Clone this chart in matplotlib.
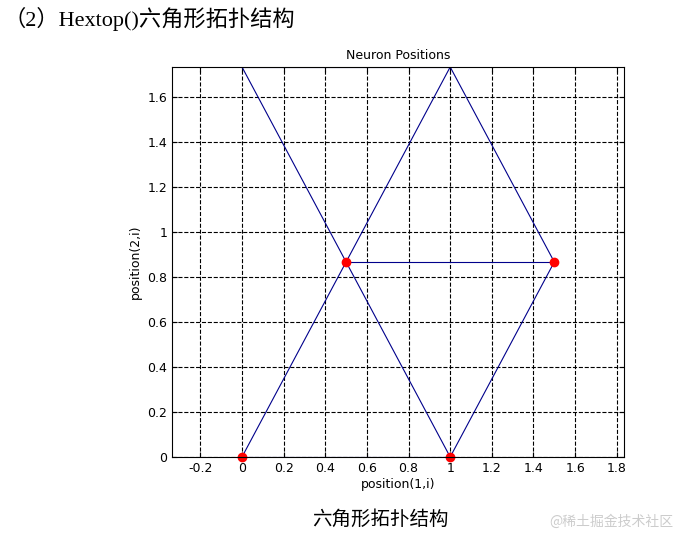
import matplotlib
matplotlib.use("Agg")
import matplotlib.pyplot as plt
import numpy as np

px = [0, 1, 0.5, 1.5, 0, 1]
py = [0, 0, 0.866, 0.866, 1.732, 1.732]
links = [(0, 1), (0, 2), (1, 2), (1, 3), (2, 3), (2, 4), (2, 5), (3, 5), (4, 5)]
visible_dots = [0, 1, 2, 3]
xticks = [-0.2, 0, 0.2, 0.4, 0.6, 0.8, 1, 1.2, 1.4, 1.6, 1.8]
yticks = [0, 0.2, 0.4, 0.6, 0.8, 1, 1.2, 1.4, 1.6]

fig = plt.figure(figsize=(6.8, 5.38), dpi=100)
ax = fig.add_axes([0.253, 0.1506, 0.665, 0.7249])
for a, b in links:
    ax.plot([px[a], px[b]], [py[a], py[b]], color='#00008B', lw=0.8)
ax.plot([px[i] for i in visible_dots], [py[i] for i in visible_dots], 'o',
        color='red', ms=6, ls='none', clip_on=False)
ax.set_xlim(-0.336, 1.836)
ax.set_ylim(0, 1.732)
ax.set_xticks(xticks)
ax.set_xticklabels([f"{v:g}" for v in xticks])
ax.set_yticks(yticks)
ax.set_yticklabels([f"{v:g}" for v in yticks])
ax.grid(True, ls='--', color='black', lw=0.8)
ax.tick_params(direction='in', labelsize=9, top=True, right=True)
ax.set_title('Neuron Positions', fontsize=9)
ax.set_xlabel('position(1,i)', fontsize=9, labelpad=2)
ax.set_ylabel('position(2,i)', fontsize=9)

fam = ['Liberation Serif', 'Noto Sans CJK SC']
fig.text(0.005, 0.965, '（2）Hextop()六角形拓扑结构', fontsize=16, family=fam, va='center')
fig.text(0.56, 0.035, '六角形拓扑结构', fontsize=14, family=fam, ha='center', va='center')
fig.text(0.99, 0.03, '@稀土掘金技术社区', fontsize=10, family=['Noto Sans CJK SC'],
         ha='right', va='center', color='#cccccc')
fig.savefig('out.png', dpi=100)
